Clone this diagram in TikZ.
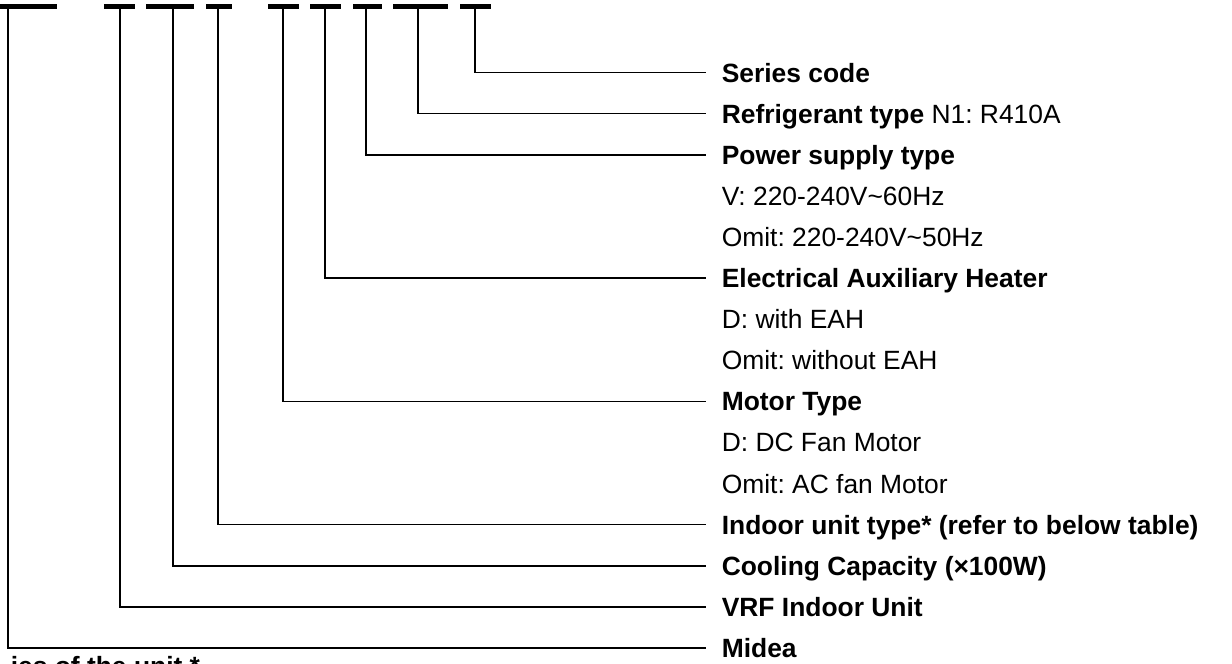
\documentclass[tikz,border=0pt]{standalone}
\usepackage{fontspec}
\setmainfont{Liberation Sans}
\frenchspacing
\tikzset{lbl/.style={anchor=west,inner xsep=15pt,inner ysep=0pt,text height=19pt,text depth=0pt,font=\fontsize{26.4}{30}\selectfont}}

\begin{document}
\begin{tikzpicture}[line cap=butt,line join=miter,x=1pt,y=-1pt,line width=1.6pt]
        \useasboundingbox (0,0) rectangle (1232,664);
        \clip (0,0) rectangle (1232,664);
        % \draw [color=gray,dash pattern=on 1pt off 1pt,step=41.1] (0,0) grid (1232,664);
        \foreach \a/\b in {0/57,104/135,146/194,206/232,268/299,310/341,353/382,393/448,460/491}
        \draw[line width=5.5pt] (\a,6.5) -- (\b,6.5);
        \foreach \txt [count=\i from 0] in {{\textbf{Series code}},{\textbf{Refrigerant type} N1: R410A},{\textbf{Power supply type}},{V: 220-240V\textasciitilde60Hz},{Omit: 220-240V\textasciitilde50Hz},{\textbf{Electrical Auxiliary Heater}},{D: with EAH},{Omit: without EAH},{\textbf{Motor Type}},{D: DC Fan Motor},{Omit: AC fan Motor},{\textbf{Indoor unit type* (refer to below table)}},{\textbf{Cooling Capacity (×100W)}},{\textbf{VRF Indoor Unit}},{\textbf{Midea}}}
        \node[lbl] (r\i) at (706,72.5+41.1*\i) {\txt};
        \foreach \x/\r [count=\k] in {475/0,418/1,366/2,325/5,283/8,218/11,173/12,120/13,8/14}
        {
        \coordinate (t\k) at (\x,9);
        \draw (t\k) |- (r\r.west);
        }
        \node[lbl,anchor=base west,inner xsep=0pt] (foot) at (10,675) {\textbf{ies of the unit *}};
      \end{tikzpicture}
\end{document}
